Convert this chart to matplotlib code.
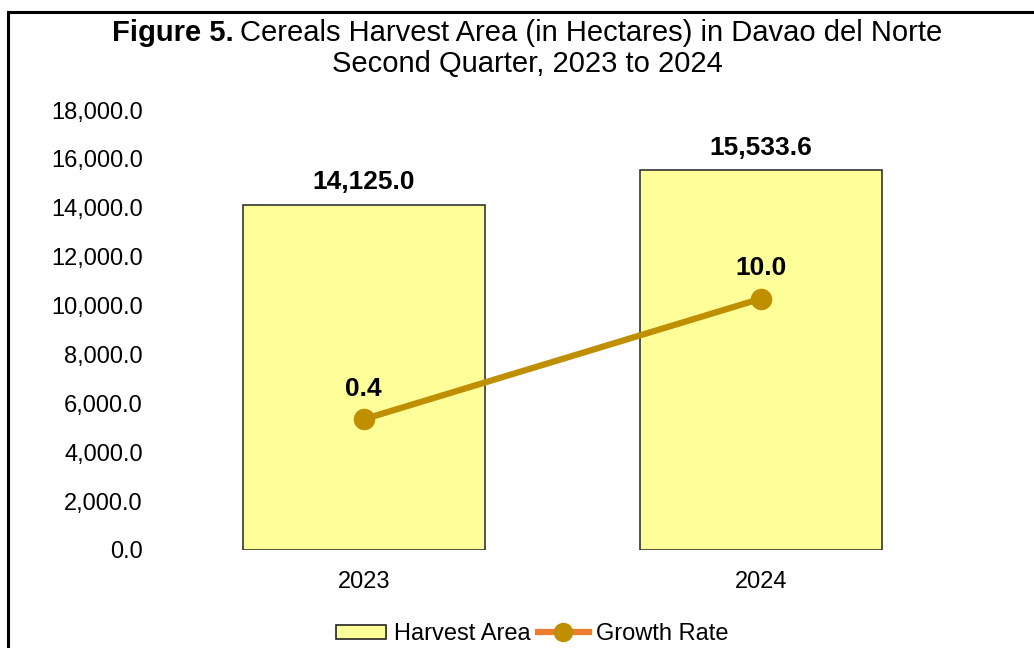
import matplotlib.pyplot as plt
from matplotlib.lines import Line2D
from matplotlib.patches import Patch

plt.rcParams['font.family'] = ['Liberation Sans', 'DejaVu Sans']

# data
years = ['2023', '2024']
harvest_area = [14125.0, 15533.6]
growth_rate = [0.4, 10.0]
yticks = [0, 2000, 4000, 6000, 8000, 10000, 12000, 14000, 16000, 18000]

bar_color = '#FFFF99'
line_color = '#BF8F00'
W, H = 1034, 648

fig = plt.figure(figsize=(W / 100, H / 100), dpi=100)
ax = fig.add_axes([165 / W, 1 - 550 / H, 795 / W, 440 / H])

x = list(range(len(years)))
ax.bar(x, harvest_area, width=0.61, color=bar_color, edgecolor='#333333', linewidth=1.2, zorder=2)
ax.set_xlim(-0.5, 1.5)
ax.set_ylim(0, 18000)
ax.set_yticks(yticks)
ax.set_yticklabels([f'{v:,.1f}' for v in yticks], fontsize=17)
ax.set_xticks(x)
ax.set_xticklabels(years, fontsize=17)
ax.tick_params(axis='y', length=0, pad=16)
ax.tick_params(axis='x', length=0, pad=15)
for s in ax.spines.values():
    s.set_visible(False)

for xi, v in zip(x, harvest_area):
    ax.annotate(f'{v:,.1f}', (xi, v), xytext=(0, 11), textcoords='offset points',
                ha='center', va='baseline', fontsize=19, fontweight='bold')

# growth rate on hidden secondary axis
ax2 = ax.twinx()
ax2.set_ylim(-10, 25)
ax2.axis('off')
ax2.plot(x, growth_rate, color=line_color, lw=4.5, marker='o', markersize=14.5, zorder=3)
for xi, v in zip(x, growth_rate):
    ax2.annotate(f'{v:.1f}', (xi, v), xytext=(0, 17), textcoords='offset points',
                 ha='center', va='baseline', fontsize=19, fontweight='bold')

# title: bold figure number followed by regular text, centred as one line
fig.canvas.draw()
r = fig.canvas.get_renderer()
t_bold = fig.text(0, 1 - 33 / H, 'Figure 5.', fontsize=21, fontweight='bold', va='center')
t_reg = fig.text(0, 1 - 33 / H, 'Cereals Harvest Area (in Hectares) in Davao del Norte',
                 fontsize=21, va='center')
wb = t_bold.get_window_extent(r).width
wr = t_reg.get_window_extent(r).width
gap = 6
x0 = 527 - (wb + gap + wr) / 2
t_bold.set_x(x0 / W)
t_reg.set_x((x0 + wb + gap) / W)
fig.text(527 / W, 1 - 64 / H, 'Second Quarter, 2023 to 2024', fontsize=21, ha='center', va='center')

# legend
handles = [Patch(facecolor=bar_color, edgecolor='#222222', linewidth=1.2),
           Line2D([], [], color='#ED7D31', lw=4.5, marker='o', markersize=13,
                  markerfacecolor=line_color, markeredgecolor=line_color)]
fig.legend(handles, ['Harvest Area', 'Growth Rate'], loc='center',
           bbox_to_anchor=(532 / W, 1 - 634 / H), ncol=2, frameon=False,
           fontsize=17, handlelength=2.15, handleheight=0.55, columnspacing=0.33,
           handletextpad=0.3, borderpad=0)

# frame lines at top and left
fig.add_artist(Line2D([8 / W, 8 / W], [0, 1 - 12 / H], color='black', lw=2.2,
                      transform=fig.transFigure))
fig.add_artist(Line2D([8 / W, 1], [1 - 12 / H, 1 - 12 / H], color='black', lw=2.2,
                      transform=fig.transFigure))

fig.savefig('out.png', dpi=100)
